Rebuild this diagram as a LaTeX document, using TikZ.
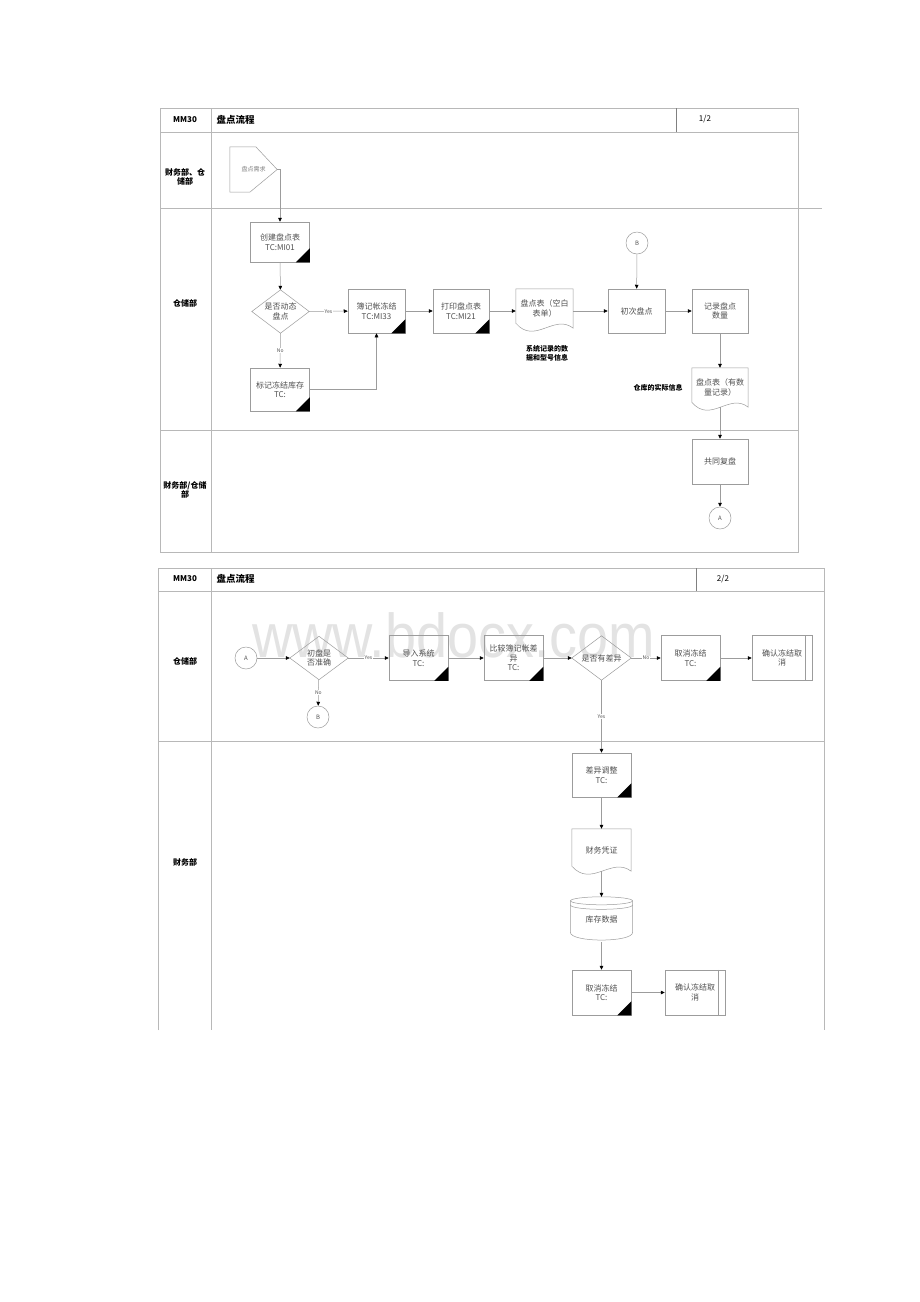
\documentclass[tikz,border=0pt]{standalone}
\usepackage{fontspec}
\setmainfont{Noto Sans CJK SC}
\newfontfamily\wmfont{Liberation Sans}
\usepackage{graphicx}
\usetikzlibrary{calc,arrows.meta,positioning}

\definecolor{linegray}{HTML}{9C9C9C}
\definecolor{framegray}{HTML}{B8B8B8}
\definecolor{txtgray}{HTML}{505050}

% black corner mark of a transaction box
\newcommand{\tcmark}[1]{\fill (#1.south east) -- ++(0,-14) -- ++(-14,14) -- cycle;}
\newcommand{\dmd}[1]{\draw[flowline] (#1.north) -- (#1.east) -- (#1.south) -- (#1.west) -- cycle;}
\newcommand{\docshape}[1]{\draw[flowline] (#1.north west) -- (#1.north east) -- (#1.south east)
   .. controls ($(#1.south west)!0.67!(#1.south east)+(0,-15)$) and ($(#1.south west)!0.33!(#1.south east)+(0,17)$) .. ($(#1.south west)+(0,-5)$) -- cycle;}
\newcommand{\subline}[1]{\draw[flowline] ($(#1.north east)+(-7,0)$) -- ($(#1.south east)+(-7,0)$);}

\begin{document}
\begin{tikzpicture}[x=1pt,y=-1pt,
  flowline/.style={draw=linegray,line width=0.5pt},
  flow/.style={flowline,-{Triangle[length=4pt,width=3.6pt,color=black]}},
  frame/.style={draw=framegray,line width=0.6pt},
  proc/.style={rectangle,draw=linegray,line width=0.5pt,minimum width=59pt,minimum height=44pt,
    inner sep=1pt,align=center,text=txtgray,font=\fontsize{8}{9.5}\selectfont},
  decn/.style={rectangle,minimum width=57pt,minimum height=43pt,inner sep=0pt,align=center,
    text=txtgray,font=\fontsize{8}{9.5}\selectfont},
  docnode/.style={rectangle,minimum width=57pt,minimum height=39pt,inner sep=1pt,align=center,
    text=txtgray,font=\fontsize{8}{9.5}\selectfont},
  conn/.style={circle,draw=linegray,line width=0.5pt,minimum size=22pt,inner sep=0pt,
    text=txtgray,font=\fontsize{6}{6}\selectfont},
  yn/.style={fill=white,inner sep=0.6pt,text=txtgray,font=\fontsize{5}{5}\selectfont},
  lane/.style={align=center,font=\bfseries\fontsize{8}{9.5}\selectfont},
  hdr/.style={font=\bfseries\fontsize{8}{9}\selectfont},
  note/.style={align=center,font=\bfseries\fontsize{7}{9}\selectfont}]

\fill[white] (0,0) rectangle (920,1302);
\useasboundingbox (0,0) rectangle (920,1302);

\node[anchor=base west,text=gray!22,inner sep=0pt] (wm) at (252,657)
   {\scalebox{0.9}[1]{\wmfont\fontsize{62}{62}\selectfont www.bdocx.com}};

%% page 1/2
\draw[frame] (160,108) rectangle (798,552);
\draw[frame] (160,132) -- (798,132) (211,108) -- (211,552) (160,430) -- (798,430);
\draw[frame] (160,208) -- (822,208);
\draw[draw=gray,line width=0.7pt] (676,108) -- (676,132);

\node[hdr] (mm1) at (185,120) {MM30};
\node[hdr,anchor=west,font=\bfseries\fontsize{9.5}{10}\selectfont] (ttl1) at (213,120) {盘点流程};
\node[font=\fontsize{8}{9}\selectfont] (pg1) at (705,119) {1/2};

\node[lane] (ln1) at (185,177) {财务部、仓\\储部};
\node[lane] (ln2) at (185,303) {仓储部};
\node[lane] (ln3) at (185,490) {财务部/仓储\\部};

\node[rectangle,minimum width=47pt,minimum height=45pt,inner sep=0pt,text=gray,
      font=\fontsize{6}{6}\selectfont] (req) at (253.5,169.5) {盘点需求};
\draw[flowline] (req.north west) -- ++(26,0) -- (req.east) -- ($(req.south west)+(20,0)$) -- (req.south west) -- cycle;

\node[proc,minimum height=40pt] (mi01) at (280,242) {创建盘点表\\TC:MI01};
\node[decn] (dyn) at (280.5,311.5) {是否动态\\盘点};
\node[proc,minimum height=43pt] (mark) at (280,389.5) {标记冻结库存\\TC:};
\node[proc,minimum width=57pt] (mi33) at (376.5,311) {簿记帐冻结\\TC:MI33};
\node[proc,minimum width=56pt] (mi21) at (461,311) {打印盘点表\\TC:MI21};
\node[docnode] (blank) at (544.5,308.5) {盘点表（空白\\表单）};
\node[note] (n1) at (547,353) {系统记录的数\\据和型号信息};
\node[conn] (b1) at (637,243) {B};
\node[proc,minimum width=57pt] (cnt) at (636.5,311) {初次盘点};
\node[proc,minimum width=56pt] (rec) at (720,311) {记录盘点\\数量};
\node[docnode,minimum width=56pt] (tab) at (720,387.5) {盘点表（有数\\量记录）};
\node[note] (n2) at (658,388) {仓库的实际信息};
\node[proc,minimum width=56pt,minimum height=45pt] (chk) at (720,461.5) {共同复盘};
\node[conn] (a1) at (720,518) {A};

\draw[flow] (req.east) -| (mi01.north);
\draw[flow] (mi01) -- (dyn);
\draw[flow] (dyn) -- node[yn] {Yes} (mi33);
\draw[flow] (dyn) -- node[yn] {No} (mark);
\draw[flow] (mark) -| (mi33);
\draw[flow] (mi33) -- (mi21);
\draw[flow] (mi21.east) -- (mi21.east -| blank.west);
\draw[flow] (blank.east |- cnt) -- (cnt.west);
\draw[flow] (b1) -- (cnt);
\draw[flow] (cnt) -- (rec);
\draw[flow] (rec) -- (tab);
\draw[flow] (tab.south) -- (chk.north);
\draw[flow] (chk) -- (a1);

%% page 2/2
\draw[frame] (158,1030) -- (158,568) -- (824,568) -- (824,1030);
\draw[frame] (158,591) -- (824,591) (211,568) -- (211,1030) (158,741) -- (824,741);
\draw[draw=gray,line width=0.7pt] (696,568) -- (696,591);

\node[hdr] (mm2) at (185,579) {MM30};
\node[hdr,anchor=west,font=\bfseries\fontsize{9.5}{10}\selectfont] (ttl2) at (213,579) {盘点流程};
\node[font=\fontsize{8}{9}\selectfont] (pg2) at (723,579) {2/2};

\node[lane] (ln4) at (185,661) {仓储部};
\node[lane] (ln5) at (185,862) {财务部};

\node[conn] (a2) at (246,658) {A};
\node[decn,minimum width=58pt] (acc) at (319,658) {初盘是\\否准确};
\node[conn] (b2) at (318,717) {B};
\node[proc,minimum height=45pt] (imp) at (418.5,658) {导入系统\\TC:};
\node[proc,minimum height=45pt] (cmp) at (513.5,658) {比较簿记帐差\\异\\TC:};
\node[decn,minimum width=59pt,minimum height=44pt] (diff) at (601.5,658) {是否有差异};
\node[proc,minimum height=45pt] (c1) at (690.5,658) {取消冻结\\TC:};
\node[proc,minimum width=60pt,minimum height=45pt] (conf1) at (782,658) {确认冻结取\\消};

\node[proc] (adj) at (601.5,775) {差异调整\\TC:};
\node[docnode,minimum width=59pt,minimum height=42pt] (vou) at (601.5,850) {财务凭证};
\node[rectangle,minimum width=62pt,minimum height=45pt,inner sep=0pt,text=txtgray,
      font=\fontsize{8}{9.5}\selectfont] (db) at (601.5,919.5) {库存数据};
\node[proc,minimum height=45pt] (c2) at (601.5,992.5) {取消冻结\\TC:};
\node[proc,minimum width=60pt,minimum height=45pt] (conf2) at (695,992.5) {确认冻结取\\消};

% drum for the stock data
\draw[flowline] ($(db.north)+(0,4)$) ellipse [x radius=31, y radius=4];
\draw[flowline] ($(db.north west)+(0,8)$) .. controls ($(db.north west)+(0,14)$) and ($(db.north east)+(0,14)$) .. ($(db.north east)+(0,8)$);
\draw[flowline] ($(db.north west)+(0,4)$) -- ($(db.south west)+(0,-10)$)
   .. controls ($(db.south west)+(0,0.5)$) and ($(db.south east)+(0,0.5)$) .. ($(db.south east)+(0,-10)$)
   -- ($(db.north east)+(0,4)$);

\draw[flow] (a2) -- (acc);
\draw[flow] (acc) -- node[yn] {Yes} (imp);
\draw[flow] (acc) -- node[yn] {No} (b2);
\draw[flow] (imp) -- (cmp);
\draw[flow] (cmp) -- (diff);
\draw[flow] (diff) -- node[yn] {No} (c1);
\draw[flow] (c1) -- (conf1);
\draw[flow] (diff) -- node[yn] {Yes} (adj);
\draw[flow] (adj) -- (vou);
\draw[flow] (vou.south) -- (db.north);
\draw[flow] (db) -- (c2);
\draw[flow] (c2) -- (conf2);

\foreach \n in {dyn,acc,diff} \dmd{\n};
\foreach \n in {blank,tab,vou} \docshape{\n};
\foreach \n in {conf1,conf2} \subline{\n};
\foreach \n in {mi01,mark,mi33,mi21,imp,cmp,c1,adj,c2} \tcmark{\n};

\end{tikzpicture}
\end{document}
